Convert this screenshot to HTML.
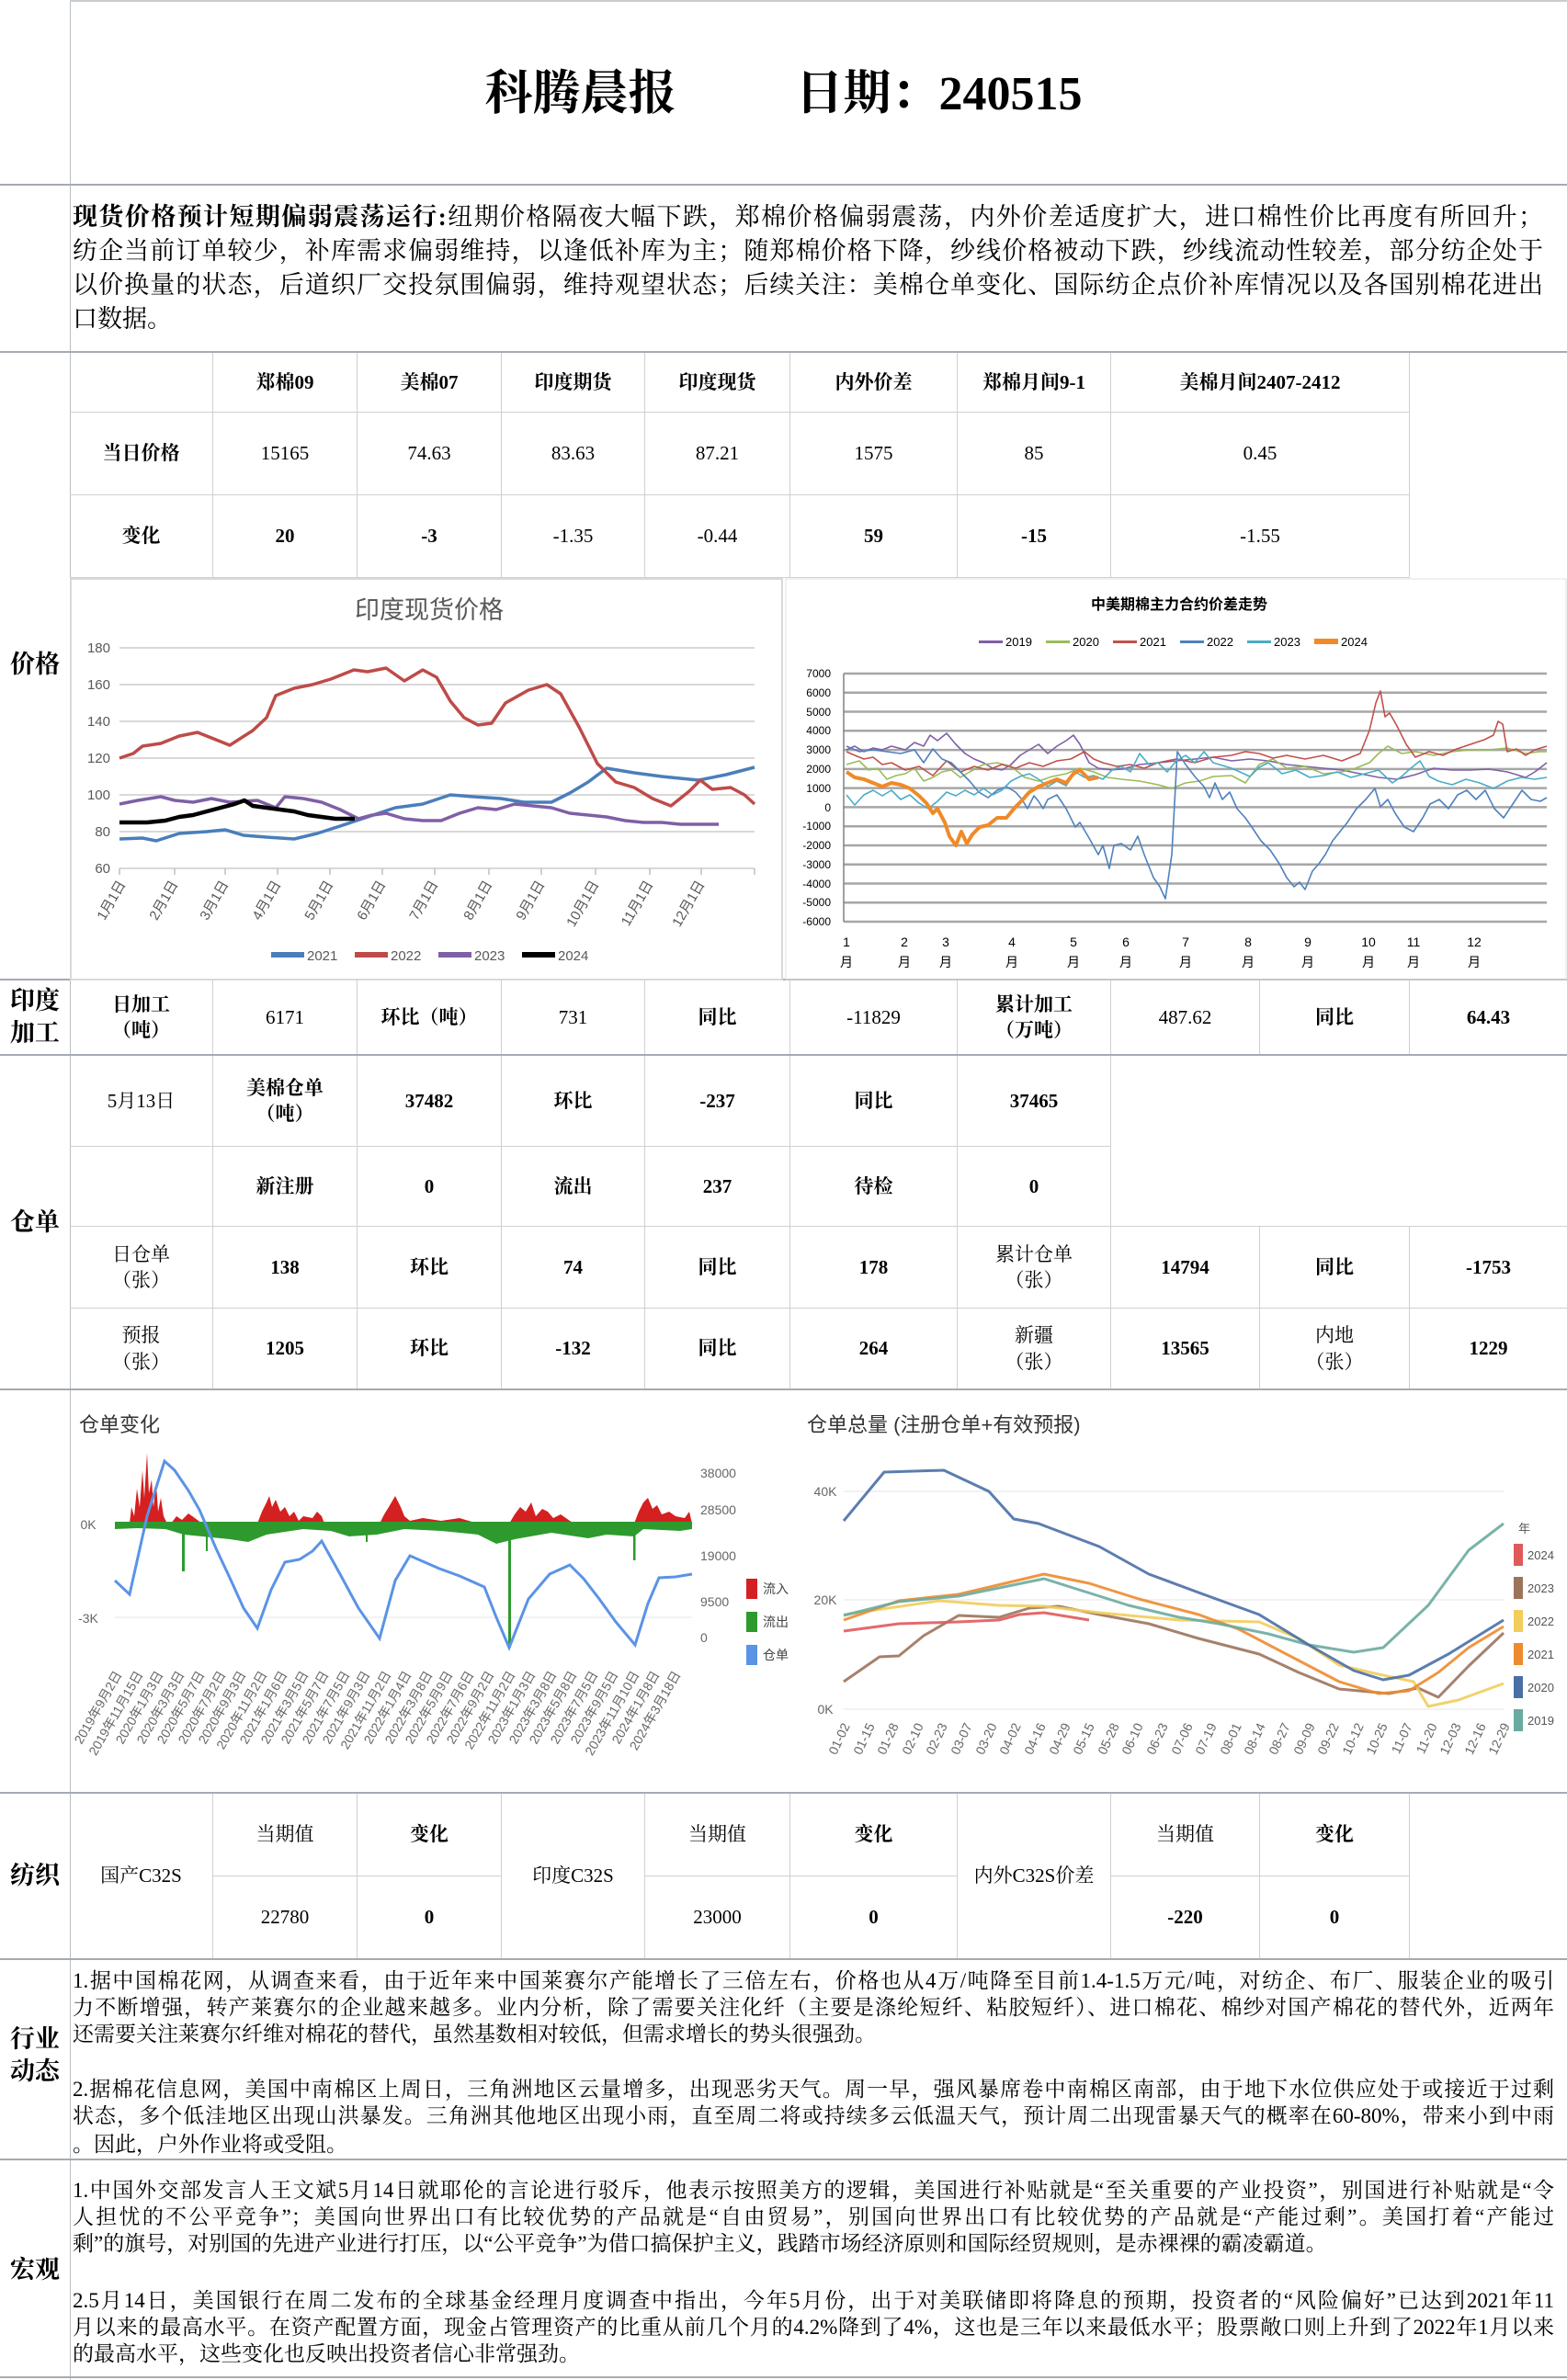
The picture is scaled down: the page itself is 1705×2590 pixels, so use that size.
<!DOCTYPE html>
<html><head><meta charset="utf-8">
<style>
body{margin:0;background:#fff;}
#p{position:relative;width:1705px;height:2590px;overflow:hidden;background:#fff;font-family:"Liberation Serif","Noto Serif CJK SC",serif;color:#000;}
.c{position:absolute;box-sizing:border-box;border-right:1px solid #d0d0d0;border-bottom:1px solid #d0d0d0;display:flex;align-items:center;justify-content:center;text-align:center;font-size:21px;line-height:1.35;}
.b{font-weight:bold;}
.hl{position:absolute;left:0;width:1705px;height:2px;background:#a4abb2;}
.lab{position:absolute;left:0;width:76px;text-align:center;font-size:27px;font-weight:bold;line-height:1.3;}
.ln{position:absolute;left:79px;width:1612px;font-size:23px;white-space:nowrap;text-align:justify;text-align-last:justify;line-height:29px;}
.sm{position:absolute;left:79px;width:1600px;font-size:27px;white-space:nowrap;text-align:justify;text-align-last:justify;line-height:36px;}
.nl{text-align-last:left !important;text-align:left !important;}
svg text{font-family:"Liberation Sans","Noto Sans CJK SC",sans-serif;}
</style></head><body><div id="p">

<div style="position:absolute;left:76px;top:0;width:1px;height:2590px;background:#b8bec4"></div>
<div style="position:absolute;left:76px;top:0;width:1629px;height:2px;background:#c8cdd2"></div>
<div style="position:absolute;left:0;top:70px;width:1705px;text-align:center;font-size:52px;font-weight:bold;line-height:66px;white-space:pre;"><span style="margin-left:0px">科腾晨报</span>          日期：240515</div>

<div class="hl" style="top:200px"></div>
<div class="sm" style="top:218px"><b>现货价格预计短期偏弱震荡运行:</b>纽期价格隔夜大幅下跌，郑棉价格偏弱震荡，内外价差适度扩大，进口棉性价比再度有所回升；</div>
<div class="sm" style="top:255px">纺企当前订单较少，补库需求偏弱维持，以逢低补库为主；随郑棉价格下降，纱线价格被动下跌，纱线流动性较差，部分纺企处于</div>
<div class="sm" style="top:292px">以价换量的状态，后道织厂交投氛围偏弱，维持观望状态；后续关注：美棉仓单变化、国际纺企点价补库情况以及各国别棉花进出</div>
<div class="sm nl" style="top:329px">口数据。</div>
<div class="hl" style="top:382px"></div>

<!-- price table -->
<div class="c" style="left:76px;top:384px;width:156px;height:65px"></div>
<div class="c b" style="left:232px;top:384px;width:157px;height:65px">郑棉09</div>
<div class="c b" style="left:389px;top:384px;width:157px;height:65px">美棉07</div>
<div class="c b" style="left:546px;top:384px;width:156px;height:65px">印度期货</div>
<div class="c b" style="left:702px;top:384px;width:158px;height:65px">印度现货</div>
<div class="c b" style="left:860px;top:384px;width:182px;height:65px">内外价差</div>
<div class="c b" style="left:1042px;top:384px;width:167px;height:65px">郑棉月间9-1</div>
<div class="c b" style="left:1209px;top:384px;width:325px;height:65px">美棉月间2407-2412</div>
<div class="c b" style="left:76px;top:449px;width:156px;height:90px">当日价格</div>
<div class="c" style="left:232px;top:449px;width:157px;height:90px">15165</div>
<div class="c" style="left:389px;top:449px;width:157px;height:90px">74.63</div>
<div class="c" style="left:546px;top:449px;width:156px;height:90px">83.63</div>
<div class="c" style="left:702px;top:449px;width:158px;height:90px">87.21</div>
<div class="c" style="left:860px;top:449px;width:182px;height:90px">1575</div>
<div class="c" style="left:1042px;top:449px;width:167px;height:90px">85</div>
<div class="c" style="left:1209px;top:449px;width:325px;height:90px">0.45</div>
<div class="c b" style="left:76px;top:539px;width:156px;height:90px">变化</div>
<div class="c b" style="left:232px;top:539px;width:157px;height:90px">20</div>
<div class="c b" style="left:389px;top:539px;width:157px;height:90px">-3</div>
<div class="c" style="left:546px;top:539px;width:156px;height:90px">-1.35</div>
<div class="c" style="left:702px;top:539px;width:158px;height:90px">-0.44</div>
<div class="c b" style="left:860px;top:539px;width:182px;height:90px">59</div>
<div class="c b" style="left:1042px;top:539px;width:167px;height:90px">-15</div>
<div class="c" style="left:1209px;top:539px;width:325px;height:90px">-1.55</div>

<div class="lab" style="top:706px">价格</div>

<div class="hl" style="top:1065px"></div>
<div class="lab" style="top:1072px">印度<br>加工</div>
<div class="c b" style="left:76px;top:1067px;width:156px;height:81px">日加工<br>（吨）</div>
<div class="c" style="left:232px;top:1067px;width:157px;height:81px">6171</div>
<div class="c b" style="left:389px;top:1067px;width:157px;height:81px">环比（吨）</div>
<div class="c" style="left:546px;top:1067px;width:156px;height:81px">731</div>
<div class="c b" style="left:702px;top:1067px;width:158px;height:81px">同比</div>
<div class="c" style="left:860px;top:1067px;width:182px;height:81px">-11829</div>
<div class="c b" style="left:1042px;top:1067px;width:167px;height:81px">累计加工<br>（万吨）</div>
<div class="c" style="left:1209px;top:1067px;width:162px;height:81px">487.62</div>
<div class="c b" style="left:1371px;top:1067px;width:163px;height:81px">同比</div>
<div class="c b" style="left:1534px;top:1067px;width:171px;height:81px;border-right:none">64.43</div>

<div class="hl" style="top:1147px"></div>
<div class="lab" style="top:1313px">仓单</div>
<div class="c" style="left:76px;top:1149px;width:156px;height:99px">5月13日</div>
<div class="c b" style="left:232px;top:1149px;width:157px;height:99px">美棉仓单<br>（吨）</div>
<div class="c b" style="left:389px;top:1149px;width:157px;height:99px">37482</div>
<div class="c b" style="left:546px;top:1149px;width:156px;height:99px">环比</div>
<div class="c b" style="left:702px;top:1149px;width:158px;height:99px">-237</div>
<div class="c b" style="left:860px;top:1149px;width:182px;height:99px">同比</div>
<div class="c b" style="left:1042px;top:1149px;width:167px;height:99px">37465</div>
<div class="c" style="left:1209px;top:1149px;width:496px;height:186px;border-right:none"></div>
<div class="c" style="left:76px;top:1248px;width:156px;height:87px"></div>
<div class="c b" style="left:232px;top:1248px;width:157px;height:87px">新注册</div>
<div class="c b" style="left:389px;top:1248px;width:157px;height:87px">0</div>
<div class="c b" style="left:546px;top:1248px;width:156px;height:87px">流出</div>
<div class="c b" style="left:702px;top:1248px;width:158px;height:87px">237</div>
<div class="c b" style="left:860px;top:1248px;width:182px;height:87px">待检</div>
<div class="c b" style="left:1042px;top:1248px;width:167px;height:87px">0</div>
<div class="c" style="left:76px;top:1335px;width:156px;height:89px">日仓单<br>（张）</div>
<div class="c b" style="left:232px;top:1335px;width:157px;height:89px">138</div>
<div class="c b" style="left:389px;top:1335px;width:157px;height:89px">环比</div>
<div class="c b" style="left:546px;top:1335px;width:156px;height:89px">74</div>
<div class="c b" style="left:702px;top:1335px;width:158px;height:89px">同比</div>
<div class="c b" style="left:860px;top:1335px;width:182px;height:89px">178</div>
<div class="c" style="left:1042px;top:1335px;width:167px;height:89px">累计仓单<br>（张）</div>
<div class="c b" style="left:1209px;top:1335px;width:162px;height:89px">14794</div>
<div class="c b" style="left:1371px;top:1335px;width:163px;height:89px">同比</div>
<div class="c b" style="left:1534px;top:1335px;width:171px;height:89px;border-right:none">-1753</div>
<div class="c" style="left:76px;top:1424px;width:156px;height:88px">预报<br>（张）</div>
<div class="c b" style="left:232px;top:1424px;width:157px;height:88px">1205</div>
<div class="c b" style="left:389px;top:1424px;width:157px;height:88px">环比</div>
<div class="c b" style="left:546px;top:1424px;width:156px;height:88px">-132</div>
<div class="c b" style="left:702px;top:1424px;width:158px;height:88px">同比</div>
<div class="c b" style="left:860px;top:1424px;width:182px;height:88px">264</div>
<div class="c" style="left:1042px;top:1424px;width:167px;height:88px">新疆<br>（张）</div>
<div class="c b" style="left:1209px;top:1424px;width:162px;height:88px">13565</div>
<div class="c" style="left:1371px;top:1424px;width:163px;height:88px">内地<br>（张）</div>
<div class="c b" style="left:1534px;top:1424px;width:171px;height:88px;border-right:none">1229</div>
<div class="hl" style="top:1511px"></div>

<div class="hl" style="top:1950px"></div>
<div class="lab" style="top:2024px">纺织</div>
<div class="c" style="left:76px;top:1952px;width:156px;height:180px">国产C32S</div>
<div class="c" style="left:232px;top:1952px;width:157px;height:90px">当期值</div>
<div class="c b" style="left:389px;top:1952px;width:157px;height:90px">变化</div>
<div class="c" style="left:546px;top:1952px;width:156px;height:180px">印度C32S</div>
<div class="c" style="left:702px;top:1952px;width:158px;height:90px">当期值</div>
<div class="c b" style="left:860px;top:1952px;width:182px;height:90px">变化</div>
<div class="c" style="left:1042px;top:1952px;width:167px;height:180px">内外C32S价差</div>
<div class="c" style="left:1209px;top:1952px;width:162px;height:90px">当期值</div>
<div class="c b" style="left:1371px;top:1952px;width:163px;height:90px">变化</div>
<div class="c" style="left:1534px;top:1952px;width:171px;height:180px;border-right:none"></div>
<div class="c" style="left:232px;top:2042px;width:157px;height:90px">22780</div>
<div class="c b" style="left:389px;top:2042px;width:157px;height:90px">0</div>
<div class="c" style="left:702px;top:2042px;width:158px;height:90px">23000</div>
<div class="c b" style="left:860px;top:2042px;width:182px;height:90px">0</div>
<div class="c b" style="left:1209px;top:2042px;width:162px;height:90px">-220</div>
<div class="c b" style="left:1371px;top:2042px;width:163px;height:90px">0</div>
<div class="hl" style="top:2131px"></div>

<div class="lab" style="top:2202px">行业<br>动态</div>
<div class="ln" style="top:2141px">1.据中国棉花网，从调查来看，由于近年来中国莱赛尔产能增长了三倍左右，价格也从4万/吨降至目前1.4-1.5万元/吨，对纺企、布厂、服装企业的吸引</div>
<div class="ln" style="top:2170px">力不断增强，转产莱赛尔的企业越来越多。业内分析，除了需要关注化纤（主要是涤纶短纤、粘胶短纤）、进口棉花、棉纱对国产棉花的替代外，近两年</div>
<div class="ln nl" style="top:2199px">还需要关注莱赛尔纤维对棉花的替代，虽然基数相对较低，但需求增长的势头很强劲。</div>
<div class="ln" style="top:2259px">2.据棉花信息网，美国中南棉区上周日，三角洲地区云量增多，出现恶劣天气。周一早，强风暴席卷中南棉区南部，由于地下水位供应处于或接近于过剩</div>
<div class="ln" style="top:2288px">状态，多个低洼地区出现山洪暴发。三角洲其他地区出现小雨，直至周二将或持续多云低温天气，预计周二出现雷暴天气的概率在60-80%，带来小到中雨</div>
<div class="ln nl" style="top:2319px">。因此，户外作业将或受阻。</div>
<div class="hl" style="top:2349px"></div>

<div class="lab" style="top:2453px">宏观</div>
<div class="ln" style="top:2369px">1.中国外交部发言人王文斌5月14日就耶伦的言论进行驳斥，他表示按照美方的逻辑，美国进行补贴就是“至关重要的产业投资”，别国进行补贴就是“令</div>
<div class="ln" style="top:2398px">人担忧的不公平竞争”；美国向世界出口有比较优势的产品就是“自由贸易”，别国向世界出口有比较优势的产品就是“产能过剩”。美国打着“产能过</div>
<div class="ln nl" style="top:2427px">剩”的旗号，对别国的先进产业进行打压，以“公平竞争”为借口搞保护主义，践踏市场经济原则和国际经贸规则，是赤裸裸的霸凌霸道。</div>
<div class="ln" style="top:2489px">2.5月14日，美国银行在周二发布的全球基金经理月度调查中指出，今年5月份，出于对美联储即将降息的预期，投资者的“风险偏好”已达到2021年11</div>
<div class="ln" style="top:2518px">月以来的最高水平。在资产配置方面，现金占管理资产的比重从前几个月的4.2%降到了4%，这也是三年以来最低水平；股票敞口则上升到了2022年1月以来</div>
<div class="ln nl" style="top:2547px">的最高水平，这些变化也反映出投资者信心非常强劲。</div>
<div class="hl" style="top:2586px"></div>

<svg style="position:absolute;left:0;top:0" width="1705" height="2590" viewBox="0 0 1705 2590">
<!-- Left price chart -->
<rect x="77" y="630" width="774" height="436" fill="#fff" stroke="#d9d9d9" stroke-width="2"/>
<text x="467" y="673" font-size="27" fill="#595959" text-anchor="middle">印度现货价格</text>
<g stroke="#d9d9d9" stroke-width="2">
<line x1="130" y1="705" x2="821" y2="705"/><line x1="130" y1="745" x2="821" y2="745"/><line x1="130" y1="785" x2="821" y2="785"/><line x1="130" y1="825" x2="821" y2="825"/><line x1="130" y1="865" x2="821" y2="865"/><line x1="130" y1="905" x2="821" y2="905"/><line x1="130" y1="945" x2="821" y2="945"/>
</g>
<g stroke="#bfbfbf" stroke-width="1.5"><line x1="130" y1="945" x2="130" y2="952"/><line x1="190" y1="945" x2="190" y2="952"/><line x1="245" y1="945" x2="245" y2="952"/><line x1="302" y1="945" x2="302" y2="952"/><line x1="359" y1="945" x2="359" y2="952"/><line x1="416" y1="945" x2="416" y2="952"/><line x1="473" y1="945" x2="473" y2="952"/><line x1="532" y1="945" x2="532" y2="952"/><line x1="589" y1="945" x2="589" y2="952"/><line x1="648" y1="945" x2="648" y2="952"/><line x1="707" y1="945" x2="707" y2="952"/><line x1="763" y1="945" x2="763" y2="952"/><line x1="821" y1="945" x2="821" y2="952"/></g>
<g font-size="15" fill="#595959" text-anchor="end">
<text x="120" y="710">180</text><text x="120" y="750">160</text><text x="120" y="790">140</text><text x="120" y="830">120</text><text x="120" y="870">100</text><text x="120" y="910">80</text><text x="120" y="950">60</text>
</g>
<g font-size="15" fill="#595959" text-anchor="end">
<text transform="translate(137,962) rotate(-60)">1月1日</text><text transform="translate(194,962) rotate(-60)">2月1日</text><text transform="translate(249,962) rotate(-60)">3月1日</text><text transform="translate(306,962) rotate(-60)">4月1日</text><text transform="translate(363,962) rotate(-60)">5月1日</text><text transform="translate(420,962) rotate(-60)">6月1日</text><text transform="translate(477,962) rotate(-60)">7月1日</text><text transform="translate(536,962) rotate(-60)">8月1日</text><text transform="translate(593,962) rotate(-60)">9月1日</text><text transform="translate(652,962) rotate(-60)">10月1日</text><text transform="translate(711,962) rotate(-60)">11月1日</text><text transform="translate(767,962) rotate(-60)">12月1日</text>
</g>
<g fill="none" stroke-width="3.5" stroke-linejoin="round">
<polyline stroke="#4a7ebb" points="130,913 155,912 170,915 195,907 225,905 245,903 265,909 290,911 320,913 345,907 370,899 400,889 430,879 460,875 490,865 515,867 545,869 570,873 600,873 620,863 640,851 660,836 690,841 720,845 760,849 790,843 821,835"/>
<polyline stroke="#be4b48" points="130,825 145,820 155,812 175,809 195,801 215,797 230,803 250,811 275,795 290,781 300,757 320,749 340,745 360,739 385,729 400,731 420,727 440,741 460,729 475,737 490,763 505,781 520,789 535,787 550,765 575,751 595,745 610,755 630,791 650,831 670,851 690,857 710,869 730,877 750,861 762,849 775,859 795,857 810,865 821,875"/>
<polyline stroke="#7f5fa6" points="130,875 150,871 175,867 190,871 210,873 230,869 250,873 280,871 300,879 310,867 330,869 350,873 370,881 390,891 405,887 420,885 440,891 460,893 480,893 500,885 520,879 540,881 560,875 580,877 600,879 620,885 640,887 660,889 680,893 700,895 720,895 740,897 760,897 782,897"/>
<polyline stroke="#000" stroke-width="4.5" points="130,895 160,895 180,893 195,889 210,887 225,883 240,879 255,875 266,871 275,877 290,879 305,881 320,883 335,887 350,889 365,891 386,891"/>
</g>
<g font-size="15" fill="#595959">
<rect x="295" y="1036" width="36" height="6" fill="#4a7ebb"/><text x="334" y="1045">2021</text>
<rect x="386" y="1036" width="36" height="6" fill="#be4b48"/><text x="425" y="1045">2022</text>
<rect x="477" y="1036" width="36" height="6" fill="#7f5fa6"/><text x="516" y="1045">2023</text>
<rect x="568" y="1036" width="36" height="6" fill="#000"/><text x="607" y="1045">2024</text>
</g>

<!-- Right price chart -->
<rect x="855" y="630" width="849" height="436" fill="none" stroke="#e0e0e0" stroke-width="1"/>
<text x="1283" y="663" font-size="16" font-weight="bold" fill="#000" text-anchor="middle">中美期棉主力合约价差走势</text>
<g font-size="13" fill="#000">
<rect x="1065" y="697" width="26" height="3" fill="#7f5fa6"/><text x="1094" y="703">2019</text>
<rect x="1138" y="697" width="26" height="3" fill="#9bbb59"/><text x="1167" y="703">2020</text>
<rect x="1211" y="697" width="26" height="3" fill="#c0504d"/><text x="1240" y="703">2021</text>
<rect x="1284" y="697" width="26" height="3" fill="#4f81bd"/><text x="1313" y="703">2022</text>
<rect x="1357" y="697" width="26" height="3" fill="#4bacc6"/><text x="1386" y="703">2023</text>
<rect x="1430" y="695" width="26" height="6" fill="#f08a28"/><text x="1459" y="703">2024</text>
</g>
<g stroke="#a6a6a6" stroke-width="2.5">
<line x1="918" y1="733" x2="1683" y2="733"/><line x1="918" y1="753.8" x2="1683" y2="753.8"/><line x1="918" y1="774.5" x2="1683" y2="774.5"/><line x1="918" y1="795.3" x2="1683" y2="795.3"/><line x1="918" y1="816.1" x2="1683" y2="816.1"/><line x1="918" y1="836.9" x2="1683" y2="836.9"/><line x1="918" y1="857.6" x2="1683" y2="857.6"/><line x1="918" y1="878.4" x2="1683" y2="878.4"/><line x1="918" y1="899.2" x2="1683" y2="899.2"/><line x1="918" y1="920" x2="1683" y2="920"/><line x1="918" y1="940.7" x2="1683" y2="940.7"/><line x1="918" y1="961.5" x2="1683" y2="961.5"/><line x1="918" y1="982.3" x2="1683" y2="982.3"/><line x1="918" y1="1003" x2="1683" y2="1003"/>
</g>
<line x1="918" y1="733" x2="918" y2="1003" stroke="#808080" stroke-width="1.5"/>
<g font-size="12" fill="#000" text-anchor="end">
<text x="904" y="737">7000</text><text x="904" y="758">6000</text><text x="904" y="779">5000</text><text x="904" y="799">4000</text><text x="904" y="820">3000</text><text x="904" y="841">2000</text><text x="904" y="862">1000</text><text x="904" y="883">0</text><text x="904" y="903">-1000</text><text x="904" y="924">-2000</text><text x="904" y="945">-3000</text><text x="904" y="966">-4000</text><text x="904" y="986">-5000</text><text x="904" y="1007">-6000</text>
</g>
<g font-size="14" fill="#000" text-anchor="middle">
<text x="921" y="1030">1</text><text x="921" y="1052">月</text><text x="984" y="1030">2</text><text x="984" y="1052">月</text><text x="1029" y="1030">3</text><text x="1029" y="1052">月</text><text x="1101" y="1030">4</text><text x="1101" y="1052">月</text><text x="1168" y="1030">5</text><text x="1168" y="1052">月</text><text x="1225" y="1030">6</text><text x="1225" y="1052">月</text><text x="1290" y="1030">7</text><text x="1290" y="1052">月</text><text x="1358" y="1030">8</text><text x="1358" y="1052">月</text><text x="1423" y="1030">9</text><text x="1423" y="1052">月</text><text x="1489" y="1030">10</text><text x="1489" y="1052">月</text><text x="1538" y="1030">11</text><text x="1538" y="1052">月</text><text x="1604" y="1030">12</text><text x="1604" y="1052">月</text>
</g>
<g fill="none" stroke-width="1.6" stroke-linejoin="round">
<polyline stroke="#7f5fa6" points="921,816 930,812 940,818 950,814 960,816 970,812 985,816 995,808 1005,812 1012,800 1020,806 1030,798 1040,810 1050,820 1060,826 1070,830 1080,836 1090,838 1100,832 1110,822 1120,816 1130,810 1140,820 1150,812 1160,806 1168,800 1175,810 1185,830 1195,836 1210,838 1225,836 1240,832 1260,830 1280,828 1300,826 1320,824 1340,828 1360,826 1380,828 1400,832 1420,834 1440,836 1460,838 1480,842 1500,846 1520,848 1540,843 1560,836 1580,838 1600,838 1620,837 1640,840 1660,846 1670,840 1683,830"/>
<polyline stroke="#9bbb59" points="921,832 935,828 945,838 955,836 965,848 975,844 985,842 995,836 1005,850 1015,846 1025,840 1035,838 1045,846 1055,840 1070,832 1085,830 1100,834 1115,846 1130,850 1145,845 1160,842 1175,836 1190,840 1205,846 1220,848 1240,850 1260,854 1275,858 1290,852 1305,850 1320,845 1340,844 1355,852 1370,832 1385,826 1400,836 1420,834 1440,842 1460,840 1475,836 1490,830 1500,820 1510,812 1525,820 1540,818 1560,822 1580,818 1600,816 1620,816 1640,814 1660,820 1675,818 1683,818"/>
<polyline stroke="#c0504d" points="921,818 930,822 940,826 950,824 960,832 970,830 985,838 1000,834 1015,844 1030,828 1045,840 1060,834 1075,838 1090,832 1105,836 1120,830 1135,834 1150,828 1165,826 1180,818 1190,826 1200,830 1215,834 1230,832 1245,836 1260,830 1280,826 1300,830 1320,824 1340,822 1355,818 1370,820 1385,825 1400,822 1420,826 1440,822 1460,828 1480,820 1490,795 1497,765 1502,752 1507,780 1512,776 1520,790 1530,810 1540,824 1555,818 1570,822 1585,815 1600,810 1615,805 1625,800 1630,785 1635,788 1640,818 1650,815 1660,822 1670,816 1683,812"/>
<polyline stroke="#4f81bd" points="921,812 935,818 950,816 965,818 980,820 995,816 1005,830 1015,815 1025,826 1035,830 1045,840 1055,850 1065,862 1075,868 1085,860 1095,856 1105,862 1112,870 1118,880 1125,866 1130,872 1135,880 1140,870 1150,865 1160,880 1170,900 1175,895 1185,912 1195,930 1200,920 1207,945 1212,920 1220,918 1230,925 1238,910 1245,930 1255,955 1262,965 1268,978 1275,930 1281,818 1290,832 1300,845 1310,856 1316,868 1322,852 1330,870 1338,862 1346,880 1355,890 1362,900 1372,915 1382,925 1392,940 1400,955 1408,965 1414,960 1420,968 1428,948 1435,940 1442,930 1450,915 1458,905 1466,895 1476,880 1486,870 1496,858 1502,878 1510,870 1518,885 1528,900 1538,905 1548,890 1556,875 1566,870 1576,880 1586,865 1596,860 1606,870 1616,860 1626,880 1636,890 1646,875 1656,860 1666,870 1676,872 1683,868"/>
<polyline stroke="#4bacc6" points="921,865 930,876 940,865 950,860 960,866 970,860 980,870 990,865 1000,874 1010,880 1020,872 1030,862 1040,866 1050,860 1060,865 1070,858 1080,865 1090,860 1100,850 1110,845 1120,842 1130,848 1140,856 1150,850 1160,855 1170,840 1180,846 1190,844 1200,848 1210,838 1220,834 1230,840 1240,820 1250,832 1260,830 1270,840 1280,828 1290,822 1300,830 1310,818 1320,830 1340,836 1360,845 1370,835 1380,830 1395,842 1410,838 1425,846 1440,844 1455,840 1470,846 1485,842 1500,838 1515,852 1525,845 1535,836 1545,828 1555,845 1565,850 1580,854 1595,848 1610,852 1625,858 1640,850 1655,846 1670,848 1683,846"/>
<polyline stroke="#f08a28" stroke-width="4" points="921,840 930,846 940,848 950,852 960,856 970,852 980,854 990,858 1000,866 1008,874 1015,885 1020,880 1028,895 1033,910 1040,920 1046,905 1052,918 1058,908 1066,900 1075,898 1085,890 1095,890 1105,878 1113,870 1120,862 1130,856 1140,852 1150,848 1160,852 1168,842 1175,838 1185,848 1195,846"/>
</g>

<!-- Warehouse change chart -->
<text x="86" y="1558" font-size="22" fill="#333">仓单变化</text>
<line x1="125" y1="1760" x2="753" y2="1760" stroke="#eee" stroke-width="1.5"/>
<g fill="#d42020">
<polygon points="141,1658 143,1640 146,1650 149,1620 152,1640 155,1600 157,1630 160,1581 162,1625 165,1610 167,1640 170,1615 172,1645 175,1630 178,1650 182,1658"/>
<polygon points="186,1658 192,1650 198,1654 205,1647 212,1652 220,1658"/>
<polygon points="280,1658 285,1645 290,1635 293,1628 296,1640 300,1632 305,1645 310,1640 315,1650 320,1645 325,1655 330,1650 340,1652 345,1645 350,1650 353,1658"/>
<polygon points="413,1658 418,1648 423,1640 430,1628 436,1640 440,1650 446,1655 460,1652 480,1655 500,1652 520,1658"/>
<polygon points="554,1658 560,1648 566,1640 572,1645 578,1635 583,1650 590,1642 596,1645 602,1652 610,1648 620,1655 625,1658"/>
<polygon points="690,1658 695,1645 700,1635 705,1630 710,1642 715,1638 720,1648 728,1645 735,1650 745,1652 750,1645 753,1658"/>
</g>
<g fill="#2e9a2e">
<polygon points="125,1656 753,1656 753,1664 740,1666 700,1664 690,1672 660,1670 640,1674 600,1668 560,1675 540,1680 520,1670 480,1666 440,1664 410,1670 380,1672 360,1666 330,1664 290,1670 270,1678 250,1675 220,1672 200,1670 180,1664 150,1663 125,1664"/>
<rect x="198" y="1660" width="3" height="50"/><rect x="553" y="1660" width="3" height="133"/><rect x="689" y="1660" width="2.5" height="38"/><rect x="224" y="1660" width="2" height="28"/><rect x="398" y="1660" width="2" height="18"/>
</g>
<polyline fill="none" stroke="#5b93e6" stroke-width="3" points="125,1720 141,1735 160,1650 179,1590 190,1600 205,1622 217,1643 235,1685 250,1717 265,1750 280,1772 295,1730 310,1700 326,1697 340,1688 350,1677 360,1695 370,1713 390,1750 413,1783 430,1720 446,1693 462,1700 478,1707 500,1715 527,1727 540,1760 554,1793 575,1740 598,1713 620,1703 635,1718 652,1740 670,1765 691,1790 705,1745 717,1717 735,1716 753,1713"/>
<g font-size="14" fill="#666">
<text x="96" y="1664" text-anchor="middle">0K</text><text x="96" y="1766" text-anchor="middle">-3K</text>
<text x="762" y="1608">38000</text><text x="762" y="1648">28500</text><text x="762" y="1698">19000</text><text x="762" y="1748">9500</text><text x="762" y="1787">0</text>
</g>
<g font-size="14" fill="#444">
<rect x="812" y="1718" width="12" height="22" fill="#d42020"/><text x="830" y="1734">流入</text>
<rect x="812" y="1754" width="12" height="22" fill="#2e9a2e"/><text x="830" y="1770">流出</text>
<rect x="812" y="1790" width="12" height="22" fill="#5b93e6"/><text x="830" y="1806">仓单</text>
</g>
<g font-size="14" fill="#666" text-anchor="end">
<text transform="translate(133,1822) rotate(-60)">2019年9月2日</text><text transform="translate(156,1822) rotate(-60)">2019年11月15日</text><text transform="translate(178,1822) rotate(-60)">2020年1月3日</text><text transform="translate(201,1822) rotate(-60)">2020年3月3日</text><text transform="translate(223,1822) rotate(-60)">2020年5月7日</text><text transform="translate(246,1822) rotate(-60)">2020年7月2日</text><text transform="translate(268,1822) rotate(-60)">2020年9月3日</text><text transform="translate(291,1822) rotate(-60)">2020年11月2日</text><text transform="translate(313,1822) rotate(-60)">2021年1月6日</text><text transform="translate(336,1822) rotate(-60)">2021年3月5日</text><text transform="translate(358,1822) rotate(-60)">2021年5月7日</text><text transform="translate(381,1822) rotate(-60)">2021年7月5日</text><text transform="translate(403,1822) rotate(-60)">2021年9月3日</text><text transform="translate(426,1822) rotate(-60)">2021年11月2日</text><text transform="translate(448,1822) rotate(-60)">2022年1月4日</text><text transform="translate(471,1822) rotate(-60)">2022年3月8日</text><text transform="translate(493,1822) rotate(-60)">2022年5月9日</text><text transform="translate(516,1822) rotate(-60)">2022年7月6日</text><text transform="translate(538,1822) rotate(-60)">2022年9月2日</text><text transform="translate(561,1822) rotate(-60)">2022年11月2日</text><text transform="translate(583,1822) rotate(-60)">2023年1月3日</text><text transform="translate(606,1822) rotate(-60)">2023年3月8日</text><text transform="translate(628,1822) rotate(-60)">2023年5月8日</text><text transform="translate(651,1822) rotate(-60)">2023年7月5日</text><text transform="translate(673,1822) rotate(-60)">2023年9月5日</text><text transform="translate(696,1822) rotate(-60)">2023年11月10日</text><text transform="translate(718,1822) rotate(-60)">2024年1月8日</text><text transform="translate(741,1822) rotate(-60)">2024年3月18日</text>
</g>

<!-- Warehouse total chart -->
<text x="878" y="1558" font-size="22" fill="#333">仓单总量 (注册仓单+有效预报)</text>
<g stroke="#eeeeee" stroke-width="1.5"><line x1="918" y1="1623" x2="1636" y2="1623"/><line x1="918" y1="1741" x2="1636" y2="1741"/><line x1="918" y1="1860" x2="1636" y2="1860"/></g>
<g font-size="14" fill="#666" text-anchor="middle"><text x="898" y="1628">40K</text><text x="898" y="1746">20K</text><text x="898" y="1865">0K</text></g>
<g fill="none" stroke-width="3" stroke-linejoin="round" stroke-opacity="0.9">
<polyline stroke="#9c735c" points="918,1830 957,1803 978,1802 1005,1780 1043,1758 1087,1760 1120,1750 1152,1748 1196,1757 1250,1767 1304,1783 1370,1800 1413,1820 1457,1838 1511,1843 1543,1837 1565,1847 1598,1813 1636,1777"/>
<polyline stroke="#f2cd5c" points="918,1757 1022,1742 1087,1747 1136,1748 1196,1755 1283,1763 1370,1765 1413,1783 1457,1812 1500,1822 1538,1830 1554,1857 1587,1850 1636,1832"/>
<polyline stroke="#ed8b2e" points="918,1763 978,1742 1043,1735 1136,1713 1185,1723 1239,1740 1304,1757 1348,1773 1413,1807 1457,1830 1500,1843 1533,1840 1565,1820 1598,1793 1636,1770"/>
<polyline stroke="#6aaba0" points="918,1758 978,1743 1043,1737 1136,1718 1174,1730 1228,1747 1283,1760 1326,1767 1380,1778 1424,1790 1473,1798 1505,1793 1554,1747 1598,1687 1636,1658"/>
<polyline stroke="#4a6fa5" points="918,1655 962,1602 1027,1600 1076,1623 1103,1653 1130,1658 1196,1683 1250,1713 1304,1733 1370,1757 1424,1790 1473,1818 1505,1828 1533,1823 1576,1800 1636,1763"/>
<polyline stroke="#e05a5a" points="918,1775 978,1767 1043,1765 1087,1763 1109,1757 1136,1755 1185,1763"/>
</g>
<g font-size="13" fill="#555">
<text x="1652" y="1668">年</text>
<rect x="1647" y="1680" width="10" height="24" fill="#e05a5a"/><text x="1662" y="1697">2024</text>
<rect x="1647" y="1716" width="10" height="24" fill="#9c735c"/><text x="1662" y="1733">2023</text>
<rect x="1647" y="1752" width="10" height="24" fill="#f2cd5c"/><text x="1662" y="1769">2022</text>
<rect x="1647" y="1788" width="10" height="24" fill="#ed8b2e"/><text x="1662" y="1805">2021</text>
<rect x="1647" y="1824" width="10" height="24" fill="#4a6fa5"/><text x="1662" y="1841">2020</text>
<rect x="1647" y="1860" width="10" height="24" fill="#6aaba0"/><text x="1662" y="1877">2019</text>
</g>
<g font-size="14" fill="#666" text-anchor="end">
<text transform="translate(925,1878) rotate(-65)">01-02</text><text transform="translate(952,1878) rotate(-65)">01-15</text><text transform="translate(978,1878) rotate(-65)">01-28</text><text transform="translate(1005,1878) rotate(-65)">02-10</text><text transform="translate(1031,1878) rotate(-65)">02-23</text><text transform="translate(1058,1878) rotate(-65)">03-07</text><text transform="translate(1085,1878) rotate(-65)">03-20</text><text transform="translate(1111,1878) rotate(-65)">04-02</text><text transform="translate(1138,1878) rotate(-65)">04-16</text><text transform="translate(1165,1878) rotate(-65)">04-29</text><text transform="translate(1191,1878) rotate(-65)">05-15</text><text transform="translate(1218,1878) rotate(-65)">05-28</text><text transform="translate(1244,1878) rotate(-65)">06-10</text><text transform="translate(1271,1878) rotate(-65)">06-23</text><text transform="translate(1298,1878) rotate(-65)">07-06</text><text transform="translate(1324,1878) rotate(-65)">07-19</text><text transform="translate(1351,1878) rotate(-65)">08-01</text><text transform="translate(1377,1878) rotate(-65)">08-14</text><text transform="translate(1404,1878) rotate(-65)">08-27</text><text transform="translate(1431,1878) rotate(-65)">09-09</text><text transform="translate(1457,1878) rotate(-65)">09-22</text><text transform="translate(1484,1878) rotate(-65)">10-12</text><text transform="translate(1510,1878) rotate(-65)">10-25</text><text transform="translate(1537,1878) rotate(-65)">11-07</text><text transform="translate(1564,1878) rotate(-65)">11-20</text><text transform="translate(1590,1878) rotate(-65)">12-03</text><text transform="translate(1617,1878) rotate(-65)">12-16</text><text transform="translate(1643,1878) rotate(-65)">12-29</text>
</g>
</svg>
</div></body></html>
